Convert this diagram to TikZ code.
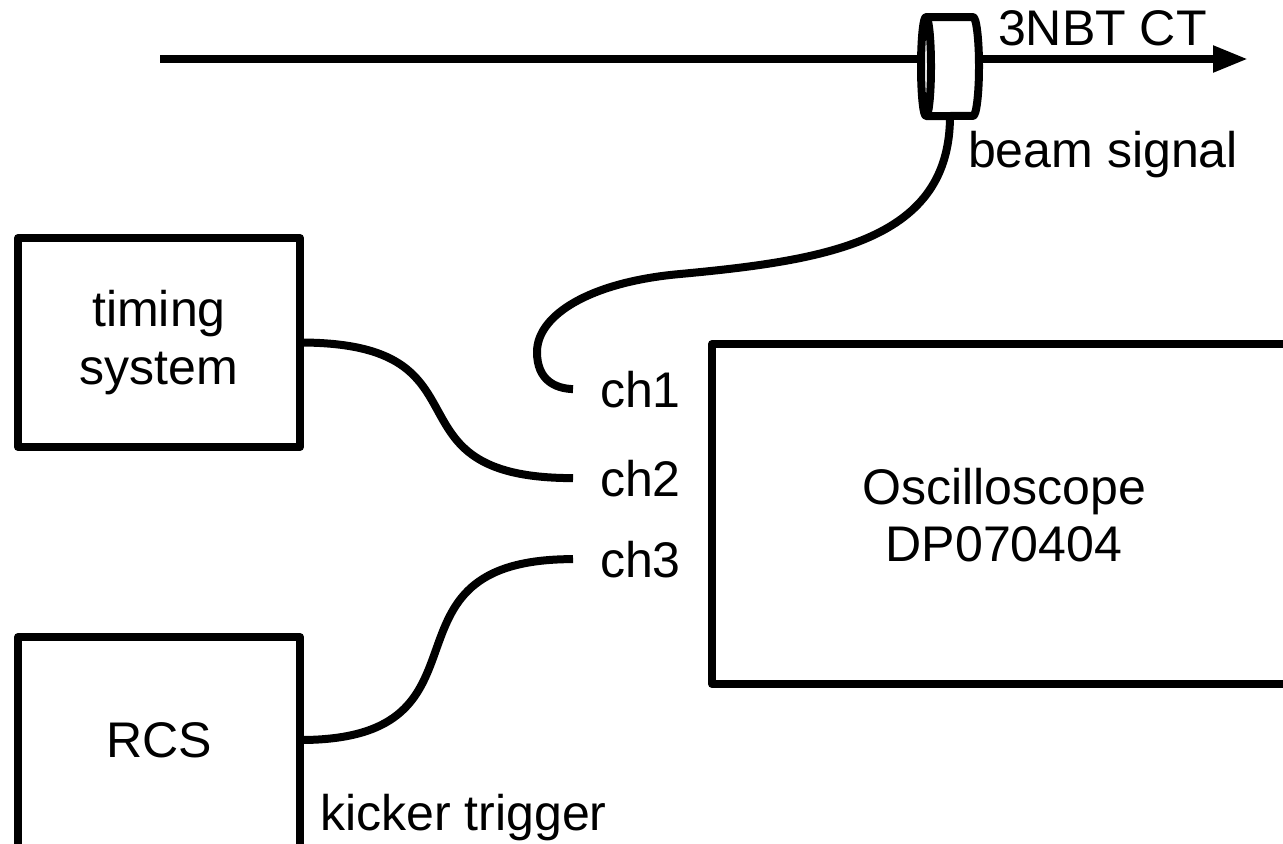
\documentclass[tikz,border=0pt]{standalone}
\usepackage{fontspec}
\setmainfont{Liberation Sans}
\usetikzlibrary{arrows.meta, positioning}

\begin{document}
\begin{tikzpicture}[
    x=0.02cm, y=-0.02cm,
    line width=0.16cm, line join=round,
    every node/.style={font=\fontsize{28.5}{32.5}\selectfont, inner sep=0pt, outer sep=0pt},
    unit/.style={draw, minimum width=5.64cm, align=center},
    chan/.style={anchor=base west, inner xsep=0.54cm},
    note/.style={anchor=base west}
]
    \useasboundingbox (0,0) rectangle (1283,843);
    \clip (0,0) rectangle (1283,843);

    % beam line and current transformer
    \coordinate (beamin) at (160,59);
    \coordinate (beamout) at (1248,59);
    \draw[-{Triangle[length=7mm,width=5mm]}] (beamin) -- (beamout);
    \draw[fill=white] (926,17) -- (973,17) arc[start angle=90, end angle=-90, x radius=0.12cm, y radius=0.99cm] -- (926,116);
    \draw[fill=white] (926,66.5) ellipse[x radius=0.1cm, y radius=0.99cm];
    \coordinate (ct) at (950,116);
    \node[note] (ctname) at (998,45) {3NBT CT};
    \node[note] (beamsig) at (968,167) {beam signal};

    % units
    \node[unit, minimum height=4.18cm] (timing) at (159,342.5) {timing\\system};
    \node[unit, minimum height=4.46cm, text depth=0.36cm] (rcs) at (159,748.5) {RCS};
    \node[draw, minimum width=11.76cm, minimum height=6.8cm, anchor=north west] (scope) at (712,344) {};
    \node[align=center] (scopename) at (1004,515) {Oscilloscope\\DP070404};
    \node[note] (kicker) at (320,830) {kicker trigger};

    % channels
    \node[chan] (ch1) at (573,407) {ch1};
    \node[chan] (ch2) at (573,496) {ch2};
    \node[chan] (ch3) at (573,577) {ch3};

    % cables
    \draw (ct) .. controls (950,240) and (830,260) .. (680,274)
               .. controls (590,282) and (537,315) .. (537,352)
               .. controls (537,380) and (555,388.5) .. (ch1.west);
    \draw (timing.east) .. controls +(200,0) and +(-197,0) .. (ch2.west);
    \draw (rcs.east |- 0,740) .. controls +(208,0) and +(-209,0) .. (ch3.west);
\end{tikzpicture}
\end{document}
